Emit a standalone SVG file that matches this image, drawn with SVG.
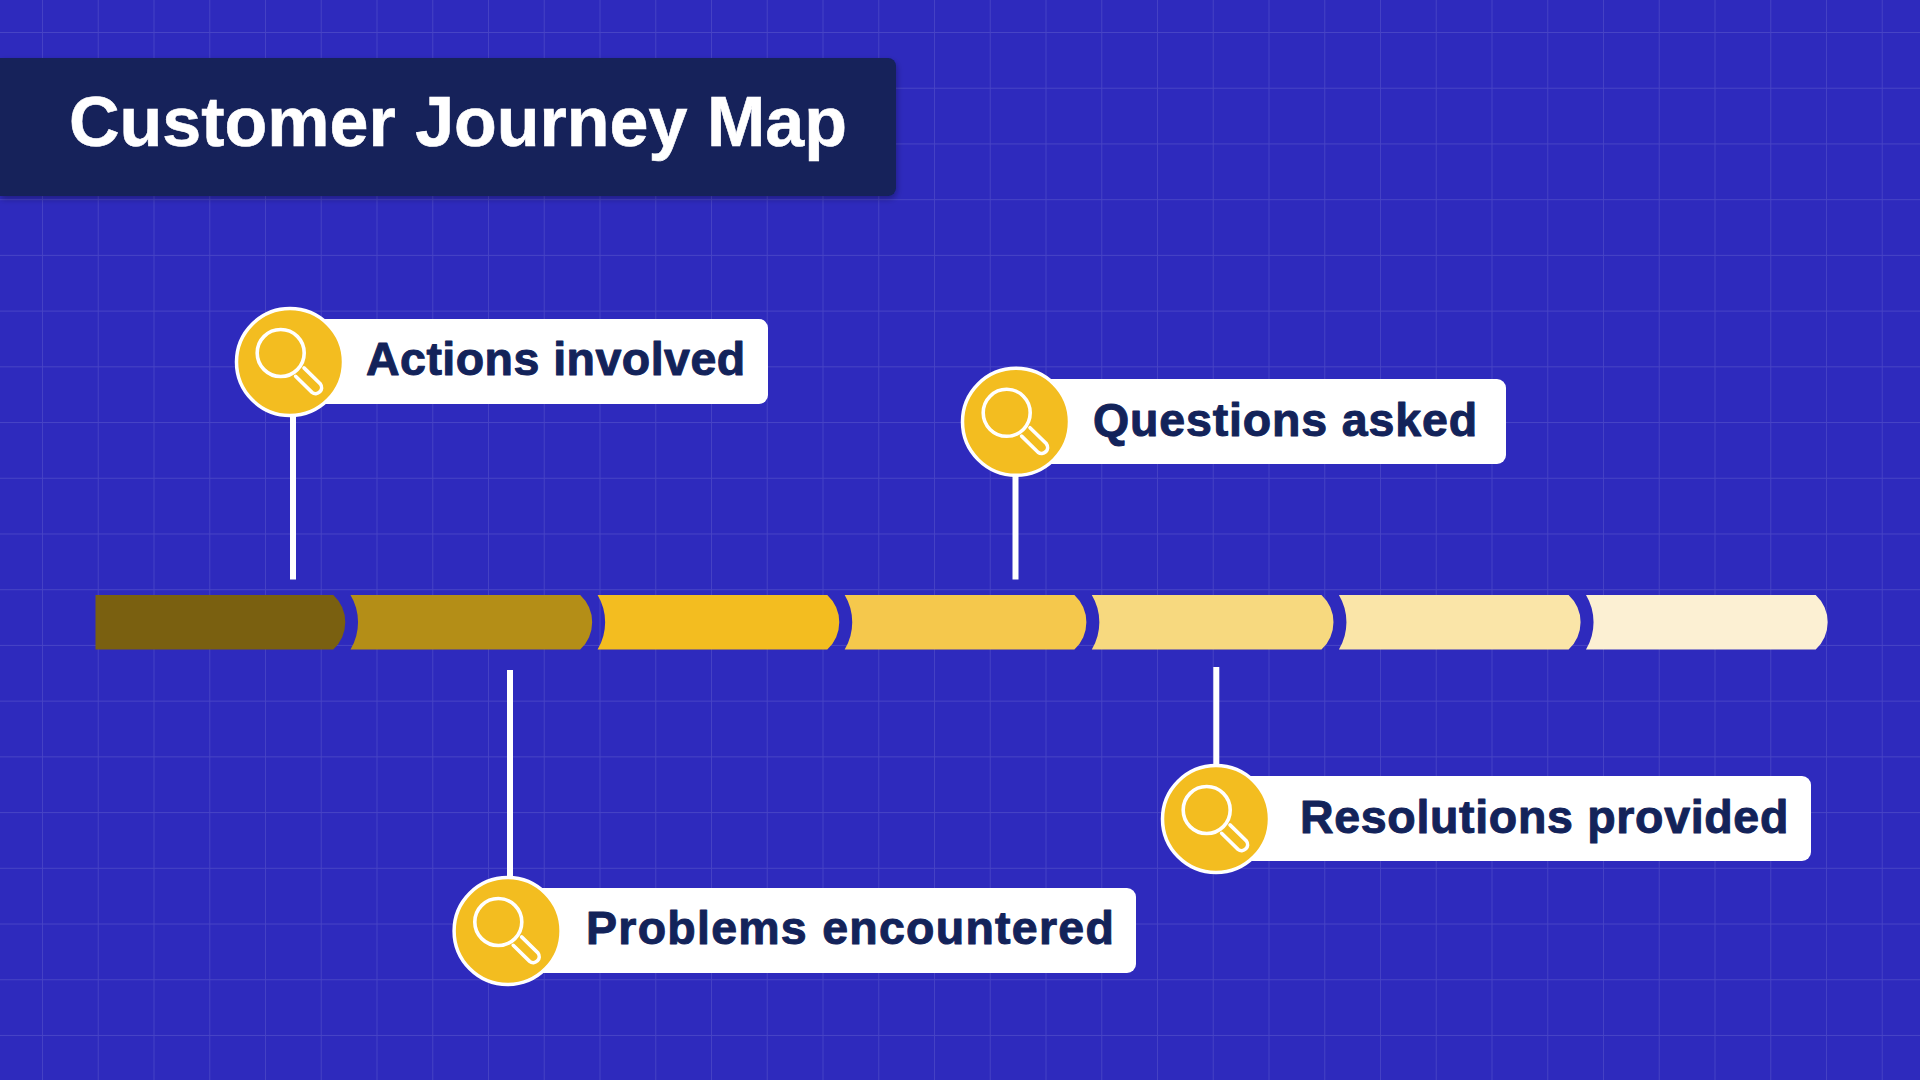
<svg xmlns="http://www.w3.org/2000/svg" width="1920" height="1080" viewBox="0 0 1920 1080">
<style>
.card{fill:#fff}
.disc{fill:#f3bd20;stroke:#fff;stroke-width:3.5}
.lens{fill:none;stroke:#fff;stroke-width:3.6;stroke-linecap:round}
.stem{stroke:#fff;stroke-width:6;fill:none}
.label{font-family:"Liberation Sans",Arial,sans-serif;font-weight:700;font-size:46.5px;fill:#13235a;stroke:#13235a;stroke-width:1;stroke-linejoin:round}
.title{font-family:"Liberation Sans",Arial,sans-serif;font-weight:700;font-size:70px;fill:#fff;stroke:#fff;stroke-width:0.6}
</style>
<defs>
<pattern id="grid" patternUnits="userSpaceOnUse" x="42" y="32" width="55.75" height="55.72">
<path d="M0.4 0V55.72M0 0.4H55.75" stroke="#fff" stroke-opacity="0.12" stroke-width="1" fill="none"/>
</pattern>
<filter id="sh" x="-5%" y="-20%" width="110%" height="140%"><feDropShadow dx="1" dy="3" stdDeviation="3" flood-color="#000" flood-opacity="0.3"/></filter>
<g id="mag">
<circle class="disc" r="53.5"/>
<circle class="lens" cx="-9.3" cy="-9" r="23.5"/>
<path class="lens" d="M14 5.9L30.4 22A6 6 0 0 1 22 30.4L5.6 14.3"/>
</g>
</defs>
<rect width="1920" height="1080" fill="#2e2abd"/>
<rect width="1920" height="1080" fill="url(#grid)"/>
<g id="title">
<path d="M0 58H888a8 8 0 0 1 8 8V188a8 8 0 0 1-8 8H0Z" fill="#13235a" filter="url(#sh)"/>
<text class="title" x="69" y="146">Customer Journey Map</text>
</g>
<g id="bar">
<path id="seg1" fill="#7a6010" d="M95.5 595H333.3A37 37 0 0 1 333.3 649.5H95.5Z"/>
<path id="seg2" fill="#b48e17" transform="translate(350.5 0)" d="M0 595H229.7A37 37 0 0 1 229.7 649.5H0A53 53 0 0 0 0 595Z"/>
<path id="seg3" fill="#f3bd20" transform="translate(597.6 0)" d="M0 595H229.7A37 37 0 0 1 229.7 649.5H0A53 53 0 0 0 0 595Z"/>
<path id="seg4" fill="#f5c84c" transform="translate(844.7 0)" d="M0 595H229.7A37 37 0 0 1 229.7 649.5H0A53 53 0 0 0 0 595Z"/>
<path id="seg5" fill="#f7d97f" transform="translate(1091.8 0)" d="M0 595H229.7A37 37 0 0 1 229.7 649.5H0A53 53 0 0 0 0 595Z"/>
<path id="seg6" fill="#fae5a8" transform="translate(1338.9 0)" d="M0 595H229.7A37 37 0 0 1 229.7 649.5H0A53 53 0 0 0 0 595Z"/>
<path id="seg7" fill="#fcf0d3" transform="translate(1586 0)" d="M0 595H229.7A37 37 0 0 1 229.7 649.5H0A53 53 0 0 0 0 595Z"/>
</g>
<g id="connectors">
<path class="stem" d="M293 417V579.5"/>
<path class="stem" d="M1015.5 476V579.5"/>
<path class="stem" d="M510 670V876"/>
<path class="stem" d="M1216.3 667V765"/>
</g>
<g id="node-actions">
<rect class="card" x="300" y="319" width="468" height="85" rx="9"/>
<use href="#mag" x="290" y="362"/>
<text class="label" x="366" y="375" letter-spacing="0.47">Actions involved</text>
</g>
<g id="node-questions">
<rect class="card" x="1025" y="379" width="481" height="85" rx="9"/>
<use href="#mag" x="1016" y="421.8"/>
<text class="label" x="1093" y="436" letter-spacing="0.85">Questions asked</text>
</g>
<g id="node-problems">
<rect class="card" x="517" y="888" width="619" height="85" rx="9"/>
<use href="#mag" x="507.6" y="931"/>
<text class="label" x="586" y="944" letter-spacing="1.26">Problems encountered</text>
</g>
<g id="node-resolutions">
<rect class="card" x="1226" y="776" width="585" height="85" rx="9"/>
<use href="#mag" x="1216" y="819"/>
<text class="label" x="1300" y="833" letter-spacing="0.68">Resolutions provided</text>
</g>
</svg>
